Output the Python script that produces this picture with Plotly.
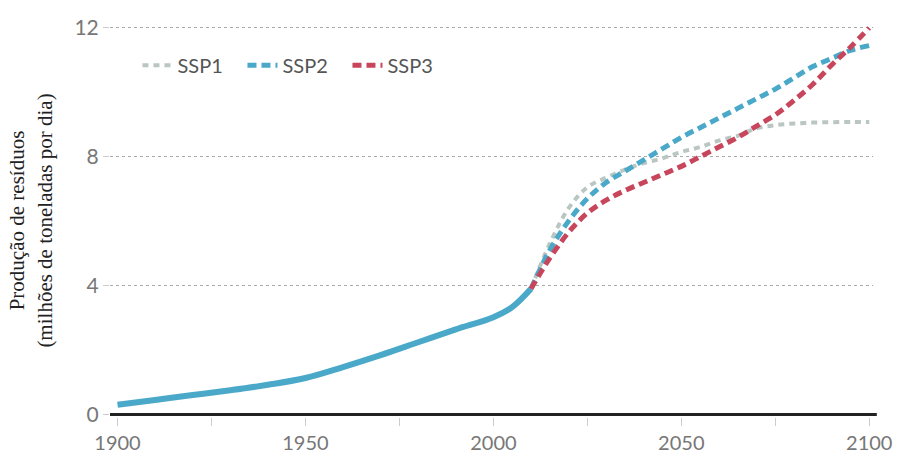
import plotly.graph_objects as go

hist_years = [1900, 1910, 1920, 1930, 1940, 1950, 1960, 1970, 1980, 1990, 2000, 2005, 2010]
hist_vals = [0.3, 0.45, 0.6, 0.75, 0.92, 1.13, 1.47, 1.84, 2.24, 2.64, 3.02, 3.33, 3.9]

proj_years = [2010, 2015, 2020, 2025, 2030, 2035, 2040, 2045, 2050, 2055,
              2060, 2065, 2070, 2075, 2080, 2085, 2090, 2095, 2100]
ssp1 = [3.9, 5.3, 6.4, 7.05, 7.35, 7.6, 7.8, 7.95, 8.15, 8.3,
        8.5, 8.65, 8.88, 8.98, 9.03, 9.06, 9.07, 9.08, 9.08]
ssp2 = [3.9, 5.1, 6.0, 6.7, 7.2, 7.55, 7.9, 8.25, 8.6, 8.9,
        9.2, 9.5, 9.8, 10.1, 10.45, 10.8, 11.05, 11.3, 11.45]
ssp3 = [3.9, 4.85, 5.65, 6.25, 6.65, 6.95, 7.2, 7.45, 7.7, 8.0,
        8.3, 8.6, 8.95, 9.3, 9.75, 10.25, 10.85, 11.4, 12.0]

names = ["SSP1", "SSP2", "SSP3"]
colors = ["#b9c6c2", "#4aa8c8", "#c8465c"]

fig = go.Figure()
fig.add_trace(go.Scatter(x=hist_years, y=hist_vals, mode="lines", showlegend=False,
                         line=dict(color="#4aa8c8", width=6, shape="spline"), hoverinfo="skip"))
for name, vals, col, w, dash in zip(names, [ssp1, ssp2, ssp3], colors,
                                    [4, 5, 5], ["6px,5px", "9px,5px", "9px,5px"]):
    fig.add_trace(go.Scatter(x=proj_years, y=vals, mode="lines", name=name,
                             line=dict(color=col, width=w, dash=dash, shape="spline")))

fig.update_layout(
    width=901, height=457,
    margin=dict(l=110, r=28, t=24, b=40, autoexpand=False),
    plot_bgcolor="white", paper_bgcolor="white",
    font=dict(family="Lato, sans-serif", color="#555"),
    legend=dict(orientation="h", x=0.036, y=0.895, xanchor="left", yanchor="middle",
                font=dict(size=20, color="#555"), bgcolor="rgba(0,0,0,0)",
                itemwidth=30, entrywidth=60, entrywidthmode="pixels"),
    showlegend=True,
)
fig.update_xaxes(range=[1898, 2101], tickvals=[1900, 1950, 2000, 2050, 2100],
                 ticks="outside", ticklen=8, tickcolor="#ccc", tickwidth=1,
                 minor=dict(dtick=25, tick0=1900, ticks="outside", ticklen=8, tickcolor="#ccc"),
                 showgrid=False, zeroline=False, showline=False, automargin=False,
                 tickfont=dict(size=20, color="#777"))
fig.update_yaxes(range=[-0.08, 12.12], tickvals=[0, 4, 8, 12],
                 ticks="outside", ticklen=6, tickcolor="#ccc",
                 showgrid=True, gridcolor="#aaa", griddash="dot", gridwidth=1,
                 zeroline=False, showline=False, automargin=False,
                 tickfont=dict(size=21, color="#777"),
                 title=dict(text="Produção de resíduos<br>(milhões de toneladas por dia)",
                            font=dict(family="Liberation Serif, serif", size=21, color="#222"),
                            standoff=16))
fig.add_shape(type="line", xref="paper", yref="y", x0=0, x1=1.005, y0=0, y1=0,
              line=dict(color="#222", width=3))
fig.write_html("out.html", config={"displayModeBar": False})

with open("out.html", encoding="utf-8") as f:
    html = f.read()
html = html.replace("<body>", '<body style="margin:0;padding:0;overflow:hidden">', 1)
with open("out.html", "w", encoding="utf-8") as f:
    f.write(html)
